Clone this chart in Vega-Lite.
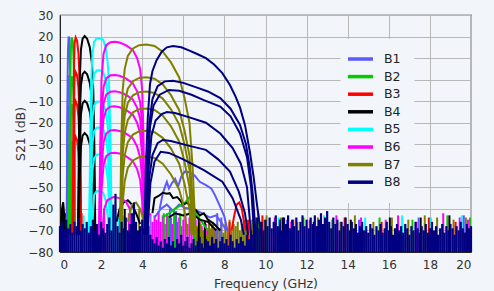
{
"$schema":"https://vega.github.io/schema/vega-lite/v6.json",
"width":411,"height":237,
"autosize":{"type":"none"},
"padding":{"left":60,"top":15,"right":23,"bottom":39},
"background":"#f2f5f9",
"config":{
"view":{"stroke":"#222","strokeWidth":1.2,"fill":"#f2f5f9"},
"font":"DejaVu Sans",
"axis":{"labelFont":"DejaVu Sans","titleFont":"DejaVu Sans","labelFontSize":12,"titleFontSize":12.5,"titleFontWeight":"normal","labelColor":"#333","titleColor":"#333","domainColor":"#222","gridColor":"#b8b8b8","gridWidth":1,"ticks":false},
"legend":{"orient":"none","legendX":280.5,"legendY":24,"title":null,"symbolType":"M-2.5,0H2.5","symbolSize":100,"symbolStrokeWidth":3.5,"labelFontSize":12.5,"labelOffset":16.5,"padding":13,"fillColor":"#f2f5f9","rowPadding":3.6,"labelColor":"#222","labelFont":"DejaVu Sans"}
},
"datasets":{
"curves":[
{"b":"B1","l":1,"f":0.32,"s":-72},{"b":"B1","l":1,"f":0.35,"s":-30},{"b":"B1","l":1,"f":0.37,"s":0},{"b":"B1","l":1,"f":0.39,"s":14},{"b":"B1","l":1,"f":0.42,"s":20},{"b":"B1","l":1,"f":0.46,"s":19},{"b":"B1","l":1,"f":0.48,"s":12},{"b":"B1","l":1,"f":0.5,"s":-5},{"b":"B1","l":1,"f":0.52,"s":-40},{"b":"B1","l":1,"f":0.54,"s":-72},
{"b":"B1","l":2,"f":0.32,"s":-72},{"b":"B1","l":2,"f":0.35,"s":-48},{"b":"B1","l":2,"f":0.37,"s":-18},{"b":"B1","l":2,"f":0.39,"s":-4},{"b":"B1","l":2,"f":0.42,"s":2},{"b":"B1","l":2,"f":0.46,"s":1},{"b":"B1","l":2,"f":0.48,"s":-6},{"b":"B1","l":2,"f":0.5,"s":-23},{"b":"B1","l":2,"f":0.52,"s":-58},{"b":"B1","l":2,"f":0.54,"s":-72},
{"b":"B1","l":3,"f":0.32,"s":-72},{"b":"B1","l":3,"f":0.35,"s":-62},{"b":"B1","l":3,"f":0.37,"s":-32},{"b":"B1","l":3,"f":0.39,"s":-18},{"b":"B1","l":3,"f":0.42,"s":-12},{"b":"B1","l":3,"f":0.46,"s":-13},{"b":"B1","l":3,"f":0.48,"s":-20},{"b":"B1","l":3,"f":0.5,"s":-37},{"b":"B1","l":3,"f":0.52,"s":-72},
{"b":"B1","l":4,"f":0.33,"s":-72},{"b":"B1","l":4,"f":0.37,"s":-50},{"b":"B1","l":4,"f":0.39,"s":-36},{"b":"B1","l":4,"f":0.42,"s":-30},{"b":"B1","l":4,"f":0.46,"s":-31},{"b":"B1","l":4,"f":0.48,"s":-38},{"b":"B1","l":4,"f":0.5,"s":-55},{"b":"B1","l":4,"f":0.52,"s":-72},
{"b":"B1","l":9,"f":4.85,"s":-60},{"b":"B1","l":9,"f":5.0,"s":-53},{"b":"B1","l":9,"f":5.1,"s":-50},{"b":"B1","l":9,"f":5.2,"s":-47.4},{"b":"B1","l":9,"f":5.3,"s":-50.5},{"b":"B1","l":9,"f":5.45,"s":-48},{"b":"B1","l":9,"f":5.6,"s":-46},{"b":"B1","l":9,"f":5.75,"s":-49.5},{"b":"B1","l":9,"f":5.9,"s":-45},{"b":"B1","l":9,"f":6.07,"s":-42.7},{"b":"B1","l":9,"f":6.3,"s":-43},{"b":"B1","l":9,"f":6.55,"s":-44.5},{"b":"B1","l":9,"f":6.8,"s":-47.4},{"b":"B1","l":9,"f":7.1,"s":-49},{"b":"B1","l":9,"f":7.37,"s":-50.6},{"b":"B1","l":9,"f":7.54,"s":-53.6},{"b":"B1","l":9,"f":7.75,"s":-58},{"b":"B1","l":9,"f":8.0,"s":-63.6},{"b":"B1","l":9,"f":8.15,"s":-70},
{"b":"B1","l":10,"f":4.6,"s":-64},{"b":"B1","l":10,"f":4.9,"s":-60},{"b":"B1","l":10,"f":5.2,"s":-58},{"b":"B1","l":10,"f":5.5,"s":-61},{"b":"B1","l":10,"f":5.8,"s":-58},{"b":"B1","l":10,"f":6.1,"s":-59.6},{"b":"B1","l":10,"f":6.5,"s":-60},{"b":"B1","l":10,"f":6.9,"s":-62},{"b":"B1","l":10,"f":7.3,"s":-64},{"b":"B1","l":10,"f":7.6,"s":-63},{"b":"B1","l":10,"f":7.9,"s":-67},{"b":"B1","l":10,"f":8.1,"s":-70},
{"b":"B2","l":1,"f":0.44,"s":-72},{"b":"B2","l":1,"f":0.47,"s":-30},{"b":"B2","l":1,"f":0.5,"s":0},{"b":"B2","l":1,"f":0.53,"s":14},{"b":"B2","l":1,"f":0.57,"s":19.5},{"b":"B2","l":1,"f":0.62,"s":18},{"b":"B2","l":1,"f":0.66,"s":10},{"b":"B2","l":1,"f":0.69,"s":-10},{"b":"B2","l":1,"f":0.72,"s":-45},{"b":"B2","l":1,"f":0.74,"s":-72},
{"b":"B2","l":2,"f":0.44,"s":-72},{"b":"B2","l":2,"f":0.47,"s":-48},{"b":"B2","l":2,"f":0.5,"s":-18},{"b":"B2","l":2,"f":0.53,"s":-4},{"b":"B2","l":2,"f":0.57,"s":1.5},{"b":"B2","l":2,"f":0.62,"s":0},{"b":"B2","l":2,"f":0.66,"s":-8},{"b":"B2","l":2,"f":0.69,"s":-28},{"b":"B2","l":2,"f":0.72,"s":-63},{"b":"B2","l":2,"f":0.74,"s":-72},
{"b":"B2","l":3,"f":0.45,"s":-72},{"b":"B2","l":3,"f":0.47,"s":-61},{"b":"B2","l":3,"f":0.5,"s":-31},{"b":"B2","l":3,"f":0.53,"s":-17},{"b":"B2","l":3,"f":0.57,"s":-11.5},{"b":"B2","l":3,"f":0.62,"s":-13},{"b":"B2","l":3,"f":0.66,"s":-21},{"b":"B2","l":3,"f":0.69,"s":-41},{"b":"B2","l":3,"f":0.72,"s":-72},
{"b":"B2","l":4,"f":0.47,"s":-72},{"b":"B2","l":4,"f":0.5,"s":-48},{"b":"B2","l":4,"f":0.53,"s":-34},{"b":"B2","l":4,"f":0.57,"s":-28.5},{"b":"B2","l":4,"f":0.62,"s":-30},{"b":"B2","l":4,"f":0.66,"s":-38},{"b":"B2","l":4,"f":0.69,"s":-58},{"b":"B2","l":4,"f":0.71,"s":-72},
{"b":"B2","l":9,"f":5.0,"s":-64},{"b":"B2","l":9,"f":5.3,"s":-62},{"b":"B2","l":9,"f":5.6,"s":-60},{"b":"B2","l":9,"f":5.9,"s":-58},{"b":"B2","l":9,"f":6.1,"s":-57},{"b":"B2","l":9,"f":6.3,"s":-54.5},{"b":"B2","l":9,"f":6.45,"s":-57},{"b":"B2","l":9,"f":6.6,"s":-62},{"b":"B2","l":9,"f":6.9,"s":-66},{"b":"B2","l":9,"f":7.2,"s":-70},
{"b":"B3","l":1,"f":0.62,"s":-72},{"b":"B3","l":1,"f":0.65,"s":-30},{"b":"B3","l":1,"f":0.68,"s":5},{"b":"B3","l":1,"f":0.71,"s":17},{"b":"B3","l":1,"f":0.76,"s":19.5},{"b":"B3","l":1,"f":0.83,"s":18},{"b":"B3","l":1,"f":0.9,"s":12},{"b":"B3","l":1,"f":0.95,"s":0},{"b":"B3","l":1,"f":0.99,"s":-25},{"b":"B3","l":1,"f":1.03,"s":-72},
{"b":"B3","l":2,"f":0.62,"s":-72},{"b":"B3","l":2,"f":0.65,"s":-46},{"b":"B3","l":2,"f":0.68,"s":-11},{"b":"B3","l":2,"f":0.71,"s":1},{"b":"B3","l":2,"f":0.76,"s":3.5},{"b":"B3","l":2,"f":0.83,"s":2},{"b":"B3","l":2,"f":0.9,"s":-4},{"b":"B3","l":2,"f":0.95,"s":-16},{"b":"B3","l":2,"f":0.99,"s":-41},{"b":"B3","l":2,"f":1.02,"s":-72},
{"b":"B3","l":3,"f":0.63,"s":-72},{"b":"B3","l":3,"f":0.65,"s":-59.5},{"b":"B3","l":3,"f":0.68,"s":-24.5},{"b":"B3","l":3,"f":0.71,"s":-12.5},{"b":"B3","l":3,"f":0.76,"s":-10},{"b":"B3","l":3,"f":0.83,"s":-11.5},{"b":"B3","l":3,"f":0.9,"s":-17.5},{"b":"B3","l":3,"f":0.95,"s":-29.5},{"b":"B3","l":3,"f":0.99,"s":-54.5},{"b":"B3","l":3,"f":1.01,"s":-72},
{"b":"B3","l":4,"f":0.65,"s":-72},{"b":"B3","l":4,"f":0.68,"s":-41},{"b":"B3","l":4,"f":0.71,"s":-29},{"b":"B3","l":4,"f":0.76,"s":-26.5},{"b":"B3","l":4,"f":0.83,"s":-28},{"b":"B3","l":4,"f":0.9,"s":-34},{"b":"B3","l":4,"f":0.95,"s":-46},{"b":"B3","l":4,"f":0.98,"s":-72},
{"b":"B3","l":9,"f":8.35,"s":-70},{"b":"B3","l":9,"f":8.48,"s":-63},{"b":"B3","l":9,"f":8.6,"s":-58},{"b":"B3","l":9,"f":8.72,"s":-57},{"b":"B3","l":9,"f":8.85,"s":-60},{"b":"B3","l":9,"f":8.95,"s":-66},{"b":"B3","l":9,"f":9.05,"s":-70},
{"b":"B4","l":1,"f":0.88,"s":-72},{"b":"B4","l":1,"f":0.92,"s":-30},{"b":"B4","l":1,"f":0.96,"s":0},{"b":"B4","l":1,"f":1.02,"s":14},{"b":"B4","l":1,"f":1.1,"s":19},{"b":"B4","l":1,"f":1.2,"s":20.2},{"b":"B4","l":1,"f":1.32,"s":19},{"b":"B4","l":1,"f":1.45,"s":15},{"b":"B4","l":1,"f":1.55,"s":8},{"b":"B4","l":1,"f":1.62,"s":-5},{"b":"B4","l":1,"f":1.67,"s":-30},{"b":"B4","l":1,"f":1.72,"s":-72},
{"b":"B4","l":2,"f":0.88,"s":-72},{"b":"B4","l":2,"f":0.92,"s":-46.5},{"b":"B4","l":2,"f":0.96,"s":-16.5},{"b":"B4","l":2,"f":1.02,"s":-2.5},{"b":"B4","l":2,"f":1.1,"s":2.5},{"b":"B4","l":2,"f":1.2,"s":3.7},{"b":"B4","l":2,"f":1.32,"s":2.5},{"b":"B4","l":2,"f":1.45,"s":-1.5},{"b":"B4","l":2,"f":1.55,"s":-8.5},{"b":"B4","l":2,"f":1.62,"s":-21.5},{"b":"B4","l":2,"f":1.67,"s":-46.5},{"b":"B4","l":2,"f":1.71,"s":-72},
{"b":"B4","l":3,"f":0.89,"s":-72},{"b":"B4","l":3,"f":0.92,"s":-60},{"b":"B4","l":3,"f":0.96,"s":-30},{"b":"B4","l":3,"f":1.02,"s":-16},{"b":"B4","l":3,"f":1.1,"s":-11},{"b":"B4","l":3,"f":1.2,"s":-9.8},{"b":"B4","l":3,"f":1.32,"s":-11},{"b":"B4","l":3,"f":1.45,"s":-15},{"b":"B4","l":3,"f":1.55,"s":-22},{"b":"B4","l":3,"f":1.62,"s":-35},{"b":"B4","l":3,"f":1.67,"s":-60},{"b":"B4","l":3,"f":1.7,"s":-72},
{"b":"B4","l":4,"f":0.92,"s":-72},{"b":"B4","l":4,"f":0.96,"s":-45},{"b":"B4","l":4,"f":1.02,"s":-31},{"b":"B4","l":4,"f":1.1,"s":-26},{"b":"B4","l":4,"f":1.2,"s":-24.8},{"b":"B4","l":4,"f":1.32,"s":-26},{"b":"B4","l":4,"f":1.45,"s":-30},{"b":"B4","l":4,"f":1.55,"s":-37},{"b":"B4","l":4,"f":1.62,"s":-50},{"b":"B4","l":4,"f":1.66,"s":-72},
{"b":"B4","l":9,"f":4.5,"s":-62},{"b":"B4","l":9,"f":4.6,"s":-55},{"b":"B4","l":9,"f":4.8,"s":-54},{"b":"B4","l":9,"f":5.0,"s":-52.5},{"b":"B4","l":9,"f":5.2,"s":-53},{"b":"B4","l":9,"f":5.34,"s":-52.7},{"b":"B4","l":9,"f":5.5,"s":-55},{"b":"B4","l":9,"f":5.7,"s":-54.5},{"b":"B4","l":9,"f":5.83,"s":-55.8},{"b":"B4","l":9,"f":6.0,"s":-58},{"b":"B4","l":9,"f":6.2,"s":-57},{"b":"B4","l":9,"f":6.4,"s":-60},{"b":"B4","l":9,"f":6.6,"s":-60.5},{"b":"B4","l":9,"f":6.8,"s":-63},{"b":"B4","l":9,"f":7.0,"s":-62},{"b":"B4","l":9,"f":7.2,"s":-65},{"b":"B4","l":9,"f":7.5,"s":-67},{"b":"B4","l":9,"f":7.8,"s":-70},
{"b":"B4","l":10,"f":5.3,"s":-64},{"b":"B4","l":10,"f":5.6,"s":-62},{"b":"B4","l":10,"f":6.0,"s":-63},{"b":"B4","l":10,"f":6.4,"s":-62},{"b":"B4","l":10,"f":6.8,"s":-65},{"b":"B4","l":10,"f":7.2,"s":-66},{"b":"B4","l":10,"f":7.6,"s":-70},
{"b":"B4","l":11,"f":2.75,"s":-66},{"b":"B4","l":11,"f":2.9,"s":-60},{"b":"B4","l":11,"f":3.1,"s":-57},{"b":"B4","l":11,"f":3.3,"s":-56},{"b":"B4","l":11,"f":3.5,"s":-58},{"b":"B4","l":11,"f":3.7,"s":-62},{"b":"B4","l":11,"f":3.9,"s":-67},
{"b":"B4","l":12,"f":0.05,"s":-70},{"b":"B4","l":12,"f":0.1,"s":-60},{"b":"B4","l":12,"f":0.15,"s":-57},{"b":"B4","l":12,"f":0.2,"s":-62},{"b":"B4","l":12,"f":0.25,"s":-70},
{"b":"B5","l":1,"f":1.42,"s":-72},{"b":"B5","l":1,"f":1.47,"s":-30},{"b":"B5","l":1,"f":1.52,"s":0},{"b":"B5","l":1,"f":1.58,"s":12},{"b":"B5","l":1,"f":1.66,"s":17.5},{"b":"B5","l":1,"f":1.78,"s":19.2},{"b":"B5","l":1,"f":1.95,"s":19.3},{"b":"B5","l":1,"f":2.1,"s":18.5},{"b":"B5","l":1,"f":2.22,"s":15},{"b":"B5","l":1,"f":2.32,"s":8},{"b":"B5","l":1,"f":2.4,"s":-5},{"b":"B5","l":1,"f":2.46,"s":-30},{"b":"B5","l":1,"f":2.52,"s":-72},
{"b":"B5","l":2,"f":1.42,"s":-72},{"b":"B5","l":2,"f":1.47,"s":-45},{"b":"B5","l":2,"f":1.52,"s":-15},{"b":"B5","l":2,"f":1.58,"s":-3},{"b":"B5","l":2,"f":1.66,"s":2.5},{"b":"B5","l":2,"f":1.78,"s":4.2},{"b":"B5","l":2,"f":1.95,"s":4.3},{"b":"B5","l":2,"f":2.1,"s":3.5},{"b":"B5","l":2,"f":2.22,"s":0},{"b":"B5","l":2,"f":2.32,"s":-7},{"b":"B5","l":2,"f":2.4,"s":-20},{"b":"B5","l":2,"f":2.46,"s":-45},{"b":"B5","l":2,"f":2.51,"s":-72},
{"b":"B5","l":3,"f":1.43,"s":-72},{"b":"B5","l":3,"f":1.47,"s":-59.5},{"b":"B5","l":3,"f":1.52,"s":-29.5},{"b":"B5","l":3,"f":1.58,"s":-17.5},{"b":"B5","l":3,"f":1.66,"s":-12},{"b":"B5","l":3,"f":1.78,"s":-10.3},{"b":"B5","l":3,"f":1.95,"s":-10.2},{"b":"B5","l":3,"f":2.1,"s":-11},{"b":"B5","l":3,"f":2.22,"s":-14.5},{"b":"B5","l":3,"f":2.32,"s":-21.5},{"b":"B5","l":3,"f":2.4,"s":-34.5},{"b":"B5","l":3,"f":2.46,"s":-59.5},{"b":"B5","l":3,"f":2.49,"s":-72},
{"b":"B5","l":4,"f":1.46,"s":-72},{"b":"B5","l":4,"f":1.52,"s":-41.5},{"b":"B5","l":4,"f":1.58,"s":-29.5},{"b":"B5","l":4,"f":1.66,"s":-24},{"b":"B5","l":4,"f":1.78,"s":-22.3},{"b":"B5","l":4,"f":1.95,"s":-22.2},{"b":"B5","l":4,"f":2.1,"s":-23},{"b":"B5","l":4,"f":2.22,"s":-26.5},{"b":"B5","l":4,"f":2.32,"s":-33.5},{"b":"B5","l":4,"f":2.4,"s":-46.5},{"b":"B5","l":4,"f":2.45,"s":-72},
{"b":"B5","l":5,"f":1.48,"s":-72},{"b":"B5","l":5,"f":1.52,"s":-54},{"b":"B5","l":5,"f":1.58,"s":-42},{"b":"B5","l":5,"f":1.66,"s":-36.5},{"b":"B5","l":5,"f":1.78,"s":-34.8},{"b":"B5","l":5,"f":1.95,"s":-34.7},{"b":"B5","l":5,"f":2.1,"s":-35.5},{"b":"B5","l":5,"f":2.22,"s":-39},{"b":"B5","l":5,"f":2.32,"s":-46},{"b":"B5","l":5,"f":2.4,"s":-59},{"b":"B5","l":5,"f":2.43,"s":-72},
{"b":"B5","l":6,"f":1.55,"s":-72},{"b":"B5","l":6,"f":1.66,"s":-53.5},{"b":"B5","l":6,"f":1.78,"s":-51.8},{"b":"B5","l":6,"f":1.95,"s":-51.7},{"b":"B5","l":6,"f":2.1,"s":-52.5},{"b":"B5","l":6,"f":2.22,"s":-56},{"b":"B5","l":6,"f":2.32,"s":-63},{"b":"B5","l":6,"f":2.38,"s":-72},
{"b":"B6","l":1,"f":1.9,"s":-72},{"b":"B6","l":1,"f":1.96,"s":-30},{"b":"B6","l":1,"f":2.02,"s":0},{"b":"B6","l":1,"f":2.12,"s":12},{"b":"B6","l":1,"f":2.25,"s":16},{"b":"B6","l":1,"f":2.45,"s":17.4},{"b":"B6","l":1,"f":2.66,"s":17.6},{"b":"B6","l":1,"f":2.9,"s":17.2},{"b":"B6","l":1,"f":3.2,"s":16},{"b":"B6","l":1,"f":3.54,"s":13.8},{"b":"B6","l":1,"f":3.75,"s":10},{"b":"B6","l":1,"f":3.9,"s":5},{"b":"B6","l":1,"f":4.0,"s":-5},{"b":"B6","l":1,"f":4.06,"s":-25},{"b":"B6","l":1,"f":4.13,"s":-72},
{"b":"B6","l":2,"f":1.9,"s":-72},{"b":"B6","l":2,"f":1.96,"s":-45.4},{"b":"B6","l":2,"f":2.02,"s":-15.4},{"b":"B6","l":2,"f":2.12,"s":-3.4},{"b":"B6","l":2,"f":2.25,"s":0.6},{"b":"B6","l":2,"f":2.45,"s":2},{"b":"B6","l":2,"f":2.66,"s":2.2},{"b":"B6","l":2,"f":2.9,"s":1.8},{"b":"B6","l":2,"f":3.2,"s":0.6},{"b":"B6","l":2,"f":3.54,"s":-1.6},{"b":"B6","l":2,"f":3.75,"s":-5.4},{"b":"B6","l":2,"f":3.9,"s":-10.4},{"b":"B6","l":2,"f":4.0,"s":-20.4},{"b":"B6","l":2,"f":4.06,"s":-40.4},{"b":"B6","l":2,"f":4.11,"s":-72},
{"b":"B6","l":3,"f":1.91,"s":-72},{"b":"B6","l":3,"f":1.96,"s":-53},{"b":"B6","l":3,"f":2.02,"s":-23},{"b":"B6","l":3,"f":2.12,"s":-11},{"b":"B6","l":3,"f":2.25,"s":-7},{"b":"B6","l":3,"f":2.45,"s":-5.6},{"b":"B6","l":3,"f":2.66,"s":-5.4},{"b":"B6","l":3,"f":2.9,"s":-5.8},{"b":"B6","l":3,"f":3.2,"s":-7},{"b":"B6","l":3,"f":3.54,"s":-9.2},{"b":"B6","l":3,"f":3.75,"s":-13},{"b":"B6","l":3,"f":3.9,"s":-18},{"b":"B6","l":3,"f":4.0,"s":-28},{"b":"B6","l":3,"f":4.06,"s":-48},{"b":"B6","l":3,"f":4.1,"s":-72},
{"b":"B6","l":4,"f":1.92,"s":-72},{"b":"B6","l":4,"f":1.96,"s":-60},{"b":"B6","l":4,"f":2.02,"s":-30},{"b":"B6","l":4,"f":2.12,"s":-18},{"b":"B6","l":4,"f":2.25,"s":-14},{"b":"B6","l":4,"f":2.45,"s":-12.6},{"b":"B6","l":4,"f":2.66,"s":-12.4},{"b":"B6","l":4,"f":2.9,"s":-12.8},{"b":"B6","l":4,"f":3.2,"s":-14},{"b":"B6","l":4,"f":3.54,"s":-16.2},{"b":"B6","l":4,"f":3.75,"s":-20},{"b":"B6","l":4,"f":3.9,"s":-25},{"b":"B6","l":4,"f":4.0,"s":-35},{"b":"B6","l":4,"f":4.06,"s":-55},{"b":"B6","l":4,"f":4.09,"s":-72},
{"b":"B6","l":5,"f":1.94,"s":-72},{"b":"B6","l":5,"f":2.02,"s":-41},{"b":"B6","l":5,"f":2.12,"s":-29},{"b":"B6","l":5,"f":2.25,"s":-25},{"b":"B6","l":5,"f":2.45,"s":-23.6},{"b":"B6","l":5,"f":2.66,"s":-23.4},{"b":"B6","l":5,"f":2.9,"s":-23.8},{"b":"B6","l":5,"f":3.2,"s":-25},{"b":"B6","l":5,"f":3.54,"s":-27.2},{"b":"B6","l":5,"f":3.75,"s":-31},{"b":"B6","l":5,"f":3.9,"s":-36},{"b":"B6","l":5,"f":4.0,"s":-46},{"b":"B6","l":5,"f":4.06,"s":-66},{"b":"B6","l":5,"f":4.08,"s":-72},
{"b":"B6","l":6,"f":1.96,"s":-72},{"b":"B6","l":6,"f":2.02,"s":-51.5},{"b":"B6","l":6,"f":2.12,"s":-39.5},{"b":"B6","l":6,"f":2.25,"s":-35.5},{"b":"B6","l":6,"f":2.45,"s":-34.1},{"b":"B6","l":6,"f":2.66,"s":-33.9},{"b":"B6","l":6,"f":2.9,"s":-34.3},{"b":"B6","l":6,"f":3.2,"s":-35.5},{"b":"B6","l":6,"f":3.54,"s":-37.7},{"b":"B6","l":6,"f":3.75,"s":-41.5},{"b":"B6","l":6,"f":3.9,"s":-46.5},{"b":"B6","l":6,"f":4.0,"s":-56.5},{"b":"B6","l":6,"f":4.05,"s":-72},
{"b":"B6","l":7,"f":2.05,"s":-72},{"b":"B6","l":7,"f":2.15,"s":-60},{"b":"B6","l":7,"f":2.3,"s":-56},{"b":"B6","l":7,"f":2.6,"s":-54.5},{"b":"B6","l":7,"f":2.9,"s":-55},{"b":"B6","l":7,"f":3.2,"s":-56.5},{"b":"B6","l":7,"f":3.4,"s":-60},{"b":"B6","l":7,"f":3.5,"s":-72},
{"b":"B7","l":1,"f":2.92,"s":-72},{"b":"B7","l":1,"f":2.98,"s":-30},{"b":"B7","l":1,"f":3.05,"s":-5},{"b":"B7","l":1,"f":3.15,"s":5},{"b":"B7","l":1,"f":3.3,"s":11},{"b":"B7","l":1,"f":3.55,"s":14.5},{"b":"B7","l":1,"f":3.85,"s":16},{"b":"B7","l":1,"f":4.2,"s":16.3},{"b":"B7","l":1,"f":4.6,"s":15.6},{"b":"B7","l":1,"f":5.0,"s":13},{"b":"B7","l":1,"f":5.4,"s":8},{"b":"B7","l":1,"f":5.8,"s":1},{"b":"B7","l":1,"f":6.05,"s":-8},{"b":"B7","l":1,"f":6.3,"s":-20},{"b":"B7","l":1,"f":6.45,"s":-40},{"b":"B7","l":1,"f":6.6,"s":-72},
{"b":"B7","l":2,"f":2.92,"s":-72},{"b":"B7","l":2,"f":2.98,"s":-45.2},{"b":"B7","l":2,"f":3.05,"s":-20.2},{"b":"B7","l":2,"f":3.15,"s":-10.2},{"b":"B7","l":2,"f":3.3,"s":-4.2},{"b":"B7","l":2,"f":3.55,"s":-0.7},{"b":"B7","l":2,"f":3.85,"s":0.8},{"b":"B7","l":2,"f":4.2,"s":1.1},{"b":"B7","l":2,"f":4.6,"s":0.4},{"b":"B7","l":2,"f":5.0,"s":-2.2},{"b":"B7","l":2,"f":5.4,"s":-7.2},{"b":"B7","l":2,"f":5.8,"s":-14.2},{"b":"B7","l":2,"f":6.05,"s":-23.2},{"b":"B7","l":2,"f":6.3,"s":-35.2},{"b":"B7","l":2,"f":6.45,"s":-55.2},{"b":"B7","l":2,"f":6.55,"s":-72},
{"b":"B7","l":3,"f":2.93,"s":-72},{"b":"B7","l":3,"f":2.98,"s":-51.8},{"b":"B7","l":3,"f":3.05,"s":-26.8},{"b":"B7","l":3,"f":3.15,"s":-16.8},{"b":"B7","l":3,"f":3.3,"s":-10.8},{"b":"B7","l":3,"f":3.55,"s":-7.3},{"b":"B7","l":3,"f":3.85,"s":-5.8},{"b":"B7","l":3,"f":4.2,"s":-5.5},{"b":"B7","l":3,"f":4.6,"s":-6.2},{"b":"B7","l":3,"f":5.0,"s":-8.8},{"b":"B7","l":3,"f":5.4,"s":-13.8},{"b":"B7","l":3,"f":5.8,"s":-20.8},{"b":"B7","l":3,"f":6.05,"s":-29.8},{"b":"B7","l":3,"f":6.3,"s":-41.8},{"b":"B7","l":3,"f":6.45,"s":-61.8},{"b":"B7","l":3,"f":6.52,"s":-72},
{"b":"B7","l":4,"f":2.94,"s":-72},{"b":"B7","l":4,"f":2.98,"s":-59.7},{"b":"B7","l":4,"f":3.05,"s":-34.7},{"b":"B7","l":4,"f":3.15,"s":-24.7},{"b":"B7","l":4,"f":3.3,"s":-18.7},{"b":"B7","l":4,"f":3.55,"s":-15.2},{"b":"B7","l":4,"f":3.85,"s":-13.7},{"b":"B7","l":4,"f":4.2,"s":-13.4},{"b":"B7","l":4,"f":4.6,"s":-14.1},{"b":"B7","l":4,"f":5.0,"s":-16.7},{"b":"B7","l":4,"f":5.4,"s":-21.7},{"b":"B7","l":4,"f":5.8,"s":-28.7},{"b":"B7","l":4,"f":6.05,"s":-37.7},{"b":"B7","l":4,"f":6.3,"s":-49.7},{"b":"B7","l":4,"f":6.45,"s":-72},
{"b":"B7","l":5,"f":2.96,"s":-72},{"b":"B7","l":5,"f":3.05,"s":-45},{"b":"B7","l":5,"f":3.15,"s":-35},{"b":"B7","l":5,"f":3.3,"s":-29},{"b":"B7","l":5,"f":3.55,"s":-25.5},{"b":"B7","l":5,"f":3.85,"s":-24},{"b":"B7","l":5,"f":4.2,"s":-23.7},{"b":"B7","l":5,"f":4.6,"s":-24.4},{"b":"B7","l":5,"f":5.0,"s":-27},{"b":"B7","l":5,"f":5.4,"s":-32},{"b":"B7","l":5,"f":5.8,"s":-39},{"b":"B7","l":5,"f":6.05,"s":-48},{"b":"B7","l":5,"f":6.3,"s":-60},{"b":"B7","l":5,"f":6.4,"s":-72},
{"b":"B7","l":6,"f":2.98,"s":-72},{"b":"B7","l":6,"f":3.05,"s":-57},{"b":"B7","l":6,"f":3.15,"s":-47},{"b":"B7","l":6,"f":3.3,"s":-41},{"b":"B7","l":6,"f":3.55,"s":-37.5},{"b":"B7","l":6,"f":3.85,"s":-36},{"b":"B7","l":6,"f":4.2,"s":-35.7},{"b":"B7","l":6,"f":4.6,"s":-36.4},{"b":"B7","l":6,"f":5.0,"s":-39},{"b":"B7","l":6,"f":5.4,"s":-44},{"b":"B7","l":6,"f":5.8,"s":-51},{"b":"B7","l":6,"f":6.05,"s":-60},{"b":"B7","l":6,"f":6.2,"s":-72},
{"b":"B7","l":9,"f":3.3,"s":-66},{"b":"B7","l":9,"f":3.5,"s":-58},{"b":"B7","l":9,"f":3.7,"s":-57},{"b":"B7","l":9,"f":3.9,"s":-60},{"b":"B7","l":9,"f":4.1,"s":-66},
{"b":"B8","l":1,"f":4.1,"s":-72},{"b":"B8","l":1,"f":4.18,"s":-40},{"b":"B8","l":1,"f":4.27,"s":-18},{"b":"B8","l":1,"f":4.38,"s":-2},{"b":"B8","l":1,"f":4.5,"s":4},{"b":"B8","l":1,"f":4.7,"s":9},{"b":"B8","l":1,"f":4.95,"s":13},{"b":"B8","l":1,"f":5.2,"s":15},{"b":"B8","l":1,"f":5.5,"s":15.6},{"b":"B8","l":1,"f":5.9,"s":15},{"b":"B8","l":1,"f":6.3,"s":13.5},{"b":"B8","l":1,"f":6.7,"s":11.8},{"b":"B8","l":1,"f":7.1,"s":10},{"b":"B8","l":1,"f":7.5,"s":7},{"b":"B8","l":1,"f":7.9,"s":3},{"b":"B8","l":1,"f":8.27,"s":-2.5},{"b":"B8","l":1,"f":8.55,"s":-8},{"b":"B8","l":1,"f":8.76,"s":-13},{"b":"B8","l":1,"f":9.0,"s":-21},{"b":"B8","l":1,"f":9.24,"s":-33.6},{"b":"B8","l":1,"f":9.42,"s":-45},{"b":"B8","l":1,"f":9.57,"s":-56.8},{"b":"B8","l":1,"f":9.7,"s":-66},{"b":"B8","l":1,"f":9.8,"s":-72},
{"b":"B8","l":2,"f":4.15,"s":-72},{"b":"B8","l":2,"f":4.25,"s":-40},{"b":"B8","l":2,"f":4.35,"s":-20},{"b":"B8","l":2,"f":4.5,"s":-9},{"b":"B8","l":2,"f":4.75,"s":-3},{"b":"B8","l":2,"f":5.1,"s":-0.8},{"b":"B8","l":2,"f":5.5,"s":-0.5},{"b":"B8","l":2,"f":6.0,"s":-1.5},{"b":"B8","l":2,"f":6.6,"s":-3.5},{"b":"B8","l":2,"f":7.2,"s":-5.5},{"b":"B8","l":2,"f":7.8,"s":-8.6},{"b":"B8","l":2,"f":8.3,"s":-13.5},{"b":"B8","l":2,"f":8.76,"s":-21},{"b":"B8","l":2,"f":9.05,"s":-30},{"b":"B8","l":2,"f":9.24,"s":-41},{"b":"B8","l":2,"f":9.4,"s":-55},{"b":"B8","l":2,"f":9.52,"s":-72},
{"b":"B8","l":3,"f":4.17,"s":-72},{"b":"B8","l":3,"f":4.27,"s":-40},{"b":"B8","l":3,"f":4.38,"s":-22},{"b":"B8","l":3,"f":4.55,"s":-12},{"b":"B8","l":3,"f":4.85,"s":-7},{"b":"B8","l":3,"f":5.3,"s":-4.8},{"b":"B8","l":3,"f":5.8,"s":-5.2},{"b":"B8","l":3,"f":6.4,"s":-7},{"b":"B8","l":3,"f":7.0,"s":-9.5},{"b":"B8","l":3,"f":7.8,"s":-12.5},{"b":"B8","l":3,"f":8.3,"s":-17},{"b":"B8","l":3,"f":8.76,"s":-25},{"b":"B8","l":3,"f":9.1,"s":-36},{"b":"B8","l":3,"f":9.3,"s":-50},{"b":"B8","l":3,"f":9.45,"s":-72},
{"b":"B8","l":4,"f":4.2,"s":-72},{"b":"B8","l":4,"f":4.32,"s":-40},{"b":"B8","l":4,"f":4.45,"s":-26},{"b":"B8","l":4,"f":4.65,"s":-19},{"b":"B8","l":4,"f":4.95,"s":-16},{"b":"B8","l":4,"f":5.2,"s":-15},{"b":"B8","l":4,"f":5.6,"s":-15.5},{"b":"B8","l":4,"f":6.3,"s":-17.5},{"b":"B8","l":4,"f":7.1,"s":-20},{"b":"B8","l":4,"f":7.8,"s":-25},{"b":"B8","l":4,"f":8.4,"s":-31.8},{"b":"B8","l":4,"f":8.8,"s":-39},{"b":"B8","l":4,"f":9.1,"s":-50},{"b":"B8","l":4,"f":9.3,"s":-72},
{"b":"B8","l":5,"f":4.22,"s":-72},{"b":"B8","l":5,"f":4.35,"s":-45},{"b":"B8","l":5,"f":4.5,"s":-35},{"b":"B8","l":5,"f":4.75,"s":-29.5},{"b":"B8","l":5,"f":5.0,"s":-28},{"b":"B8","l":5,"f":5.4,"s":-28.5},{"b":"B8","l":5,"f":6.2,"s":-30.5},{"b":"B8","l":5,"f":7.1,"s":-32.6},{"b":"B8","l":5,"f":7.7,"s":-37},{"b":"B8","l":5,"f":8.27,"s":-42.7},{"b":"B8","l":5,"f":8.7,"s":-52},{"b":"B8","l":5,"f":9.0,"s":-62},{"b":"B8","l":5,"f":9.15,"s":-72},
{"b":"B8","l":6,"f":4.25,"s":-72},{"b":"B8","l":6,"f":4.4,"s":-48},{"b":"B8","l":6,"f":4.6,"s":-38},{"b":"B8","l":6,"f":4.9,"s":-33.5},{"b":"B8","l":6,"f":5.3,"s":-34},{"b":"B8","l":6,"f":6.0,"s":-37},{"b":"B8","l":6,"f":7.0,"s":-42},{"b":"B8","l":6,"f":7.9,"s":-47.4},{"b":"B8","l":6,"f":8.4,"s":-55},{"b":"B8","l":6,"f":8.8,"s":-65},{"b":"B8","l":6,"f":8.95,"s":-72}
],
"noise":[
{"b":"B6","f":4.2,"s":-61},{"b":"B6","f":4.3,"s":-64},{"b":"B6","f":4.4,"s":-62},{"b":"B6","f":4.5,"s":-66},{"b":"B6","f":4.6,"s":-63},{"b":"B6","f":4.7,"s":-65},{"b":"B6","f":4.8,"s":-61},{"b":"B6","f":4.9,"s":-66},{"b":"B6","f":5.0,"s":-63},{"b":"B6","f":5.1,"s":-67},{"b":"B6","f":5.2,"s":-62},{"b":"B6","f":5.3,"s":-65},{"b":"B6","f":5.4,"s":-64},{"b":"B6","f":5.5,"s":-67},{"b":"B6","f":5.6,"s":-63},{"b":"B6","f":5.7,"s":-66},{"b":"B6","f":5.8,"s":-64},{"b":"B6","f":5.9,"s":-68},{"b":"B6","f":6.0,"s":-65},{"b":"B6","f":6.1,"s":-63},{"b":"B6","f":6.2,"s":-67},{"b":"B6","f":6.3,"s":-64},{"b":"B6","f":6.4,"s":-66},{"b":"B6","f":6.5,"s":-68},{"b":"B6","f":6.6,"s":-65},{"b":"B6","f":6.7,"s":-69},{"b":"B6","f":6.8,"s":-66},{"b":"B6","f":6.9,"s":-68},{"b":"B6","f":7.0,"s":-70},{"b":"B6","f":7.1,"s":-67},{"b":"B6","f":7.2,"s":-69},{"b":"B6","f":7.3,"s":-71},{"b":"B6","f":7.4,"s":-68},{"b":"B6","f":7.5,"s":-70},{"b":"B6","f":7.6,"s":-72},
{"b":"B6","f":2.15,"s":-60},{"b":"B6","f":3.35,"s":-62},{"b":"B6","f":10.45,"s":-64},{"b":"B6","f":11.25,"s":-66},{"b":"B6","f":12.15,"s":-65},{"b":"B6","f":13.45,"s":-63},{"b":"B6","f":14.65,"s":-64},{"b":"B6","f":15.85,"s":-65},{"b":"B6","f":16.45,"s":-63},{"b":"B6","f":17.35,"s":-66},{"b":"B6","f":18.65,"s":-62},{"b":"B6","f":19.45,"s":-64},{"b":"B6","f":19.85,"s":-65},
{"b":"B7","f":6.65,"s":-68},{"b":"B7","f":6.75,"s":-71},{"b":"B7","f":6.85,"s":-67},{"b":"B7","f":6.95,"s":-70},{"b":"B7","f":7.05,"s":-68},{"b":"B7","f":7.15,"s":-72},{"b":"B7","f":7.25,"s":-67},{"b":"B7","f":7.35,"s":-69},{"b":"B7","f":7.45,"s":-66},{"b":"B7","f":7.55,"s":-70},{"b":"B7","f":7.65,"s":-67},{"b":"B7","f":7.75,"s":-69},{"b":"B7","f":7.85,"s":-66},{"b":"B7","f":7.95,"s":-71},{"b":"B7","f":8.05,"s":-67},{"b":"B7","f":8.15,"s":-69},{"b":"B7","f":8.25,"s":-65},{"b":"B7","f":8.35,"s":-70},{"b":"B7","f":8.45,"s":-67},{"b":"B7","f":8.55,"s":-68},{"b":"B7","f":8.65,"s":-66},{"b":"B7","f":8.75,"s":-70},{"b":"B7","f":8.85,"s":-67},{"b":"B7","f":8.95,"s":-65},{"b":"B7","f":9.05,"s":-69},{"b":"B7","f":9.15,"s":-66},{"b":"B7","f":9.25,"s":-68},{"b":"B7","f":9.35,"s":-65},{"b":"B7","f":9.45,"s":-67},{"b":"B7","f":9.55,"s":-64},{"b":"B7","f":9.65,"s":-68},{"b":"B7","f":9.75,"s":-66},{"b":"B7","f":9.85,"s":-69},{"b":"B7","f":9.95,"s":-65},
{"b":"B7","f":2.95,"s":-62},{"b":"B7","f":3.85,"s":-60},{"b":"B7","f":10.05,"s":-63},{"b":"B7","f":10.75,"s":-64},{"b":"B7","f":11.55,"s":-66},{"b":"B7","f":12.55,"s":-64},{"b":"B7","f":13.65,"s":-66},{"b":"B7","f":14.35,"s":-63},{"b":"B7","f":15.25,"s":-66},{"b":"B7","f":16.15,"s":-64},{"b":"B7","f":16.95,"s":-65},{"b":"B7","f":17.75,"s":-63},{"b":"B7","f":18.35,"s":-64},{"b":"B7","f":19.15,"s":-65},{"b":"B7","f":19.75,"s":-64},
{"b":"B5","f":0.55,"s":-65},{"b":"B5","f":1.15,"s":-63},{"b":"B5","f":2.55,"s":-62},{"b":"B5","f":2.65,"s":-60},{"b":"B5","f":2.85,"s":-64},{"b":"B5","f":4.15,"s":-60},{"b":"B5","f":4.35,"s":-63},{"b":"B5","f":10.65,"s":-64},{"b":"B5","f":12.85,"s":-63},{"b":"B5","f":14.85,"s":-64},{"b":"B5","f":16.65,"s":-63},{"b":"B5","f":18.05,"s":-64},{"b":"B5","f":19.55,"s":-63},
{"b":"B2","f":0.35,"s":-64},{"b":"B2","f":1.45,"s":-62},{"b":"B2","f":3.05,"s":-63},{"b":"B2","f":5.05,"s":-62},{"b":"B2","f":5.25,"s":-63},{"b":"B2","f":5.55,"s":-61},{"b":"B2","f":5.85,"s":-62},{"b":"B2","f":6.55,"s":-64},{"b":"B2","f":9.65,"s":-62},{"b":"B2","f":11.85,"s":-64},{"b":"B2","f":13.25,"s":-65},{"b":"B2","f":15.55,"s":-64},{"b":"B2","f":17.15,"s":-65},{"b":"B2","f":18.85,"s":-63},{"b":"B2","f":19.95,"s":-64},
{"b":"B4","f":0.15,"s":-57},{"b":"B4","f":0.25,"s":-62},{"b":"B4","f":3.15,"s":-60},{"b":"B4","f":6.75,"s":-64},{"b":"B4","f":7.05,"s":-66},{"b":"B4","f":9.45,"s":-64},{"b":"B4","f":10.85,"s":-64},{"b":"B4","f":12.35,"s":-66},{"b":"B4","f":14.15,"s":-65},{"b":"B4","f":16.05,"s":-64},{"b":"B4","f":17.55,"s":-64},{"b":"B4","f":18.95,"s":-63},
{"b":"B3","f":1.05,"s":-62},{"b":"B3","f":8.25,"s":-66},{"b":"B3","f":9.15,"s":-65},{"b":"B3","f":9.85,"s":-63},{"b":"B3","f":11.35,"s":-65},{"b":"B3","f":13.85,"s":-64},{"b":"B3","f":15.65,"s":-66},{"b":"B3","f":17.95,"s":-64},{"b":"B3","f":19.25,"s":-66},
{"b":"B1","f":0.25,"s":-64},{"b":"B1","f":5.35,"s":-60},{"b":"B1","f":5.65,"s":-61},{"b":"B1","f":7.65,"s":-62},{"b":"B1","f":7.85,"s":-64},{"b":"B1","f":11.05,"s":-65},{"b":"B1","f":14.55,"s":-65},{"b":"B1","f":17.45,"s":-64},{"b":"B1","f":19.65,"s":-63},
{"b":"B8","f":0.0,"s":-68},{"b":"B8","f":0.1,"s":-66},{"b":"B8","f":0.2,"s":-70},{"b":"B8","f":0.3,"s":-65},{"b":"B8","f":0.4,"s":-69},{"b":"B8","f":0.5,"s":-67},{"b":"B8","f":0.6,"s":-71},{"b":"B8","f":0.7,"s":-66},{"b":"B8","f":0.8,"s":-68},{"b":"B8","f":0.9,"s":-64},
{"b":"B8","f":1.0,"s":-70},{"b":"B8","f":1.1,"s":-67},{"b":"B8","f":1.2,"s":-69},{"b":"B8","f":1.3,"s":-66},{"b":"B8","f":1.4,"s":-71},{"b":"B8","f":1.5,"s":-68},{"b":"B8","f":1.6,"s":-65},{"b":"B8","f":1.7,"s":-70},{"b":"B8","f":1.8,"s":-67},{"b":"B8","f":1.9,"s":-72},
{"b":"B8","f":2.0,"s":-66},{"b":"B8","f":2.1,"s":-69},{"b":"B8","f":2.2,"s":-71},{"b":"B8","f":2.3,"s":-67},{"b":"B8","f":2.4,"s":-64},{"b":"B8","f":2.5,"s":-70},{"b":"B8","f":2.6,"s":-58},{"b":"B8","f":2.7,"s":-53},{"b":"B8","f":2.8,"s":-68},{"b":"B8","f":2.9,"s":-71},
{"b":"B8","f":3.0,"s":-66},{"b":"B8","f":3.1,"s":-69},{"b":"B8","f":3.2,"s":-64},{"b":"B8","f":3.3,"s":-70},{"b":"B8","f":3.4,"s":-67},{"b":"B8","f":3.5,"s":-62},{"b":"B8","f":3.6,"s":-57},{"b":"B8","f":3.7,"s":-66},{"b":"B8","f":3.8,"s":-70},{"b":"B8","f":3.9,"s":-68},
{"b":"B8","f":4.0,"s":-65},{"b":"B8","f":4.1,"s":-69},{"b":"B8","f":4.2,"s":-71},{"b":"B8","f":4.3,"s":-68},{"b":"B8","f":4.4,"s":-72},{"b":"B8","f":4.5,"s":-74},{"b":"B8","f":4.6,"s":-76},{"b":"B8","f":4.7,"s":-73},{"b":"B8","f":4.8,"s":-77},{"b":"B8","f":4.9,"s":-75},
{"b":"B8","f":5.0,"s":-78},{"b":"B8","f":5.1,"s":-74},{"b":"B8","f":5.2,"s":-76},{"b":"B8","f":5.3,"s":-73},{"b":"B8","f":5.4,"s":-77},{"b":"B8","f":5.5,"s":-75},{"b":"B8","f":5.6,"s":-78},{"b":"B8","f":5.7,"s":-74},{"b":"B8","f":5.8,"s":-76},{"b":"B8","f":5.9,"s":-72},
{"b":"B8","f":6.0,"s":-77},{"b":"B8","f":6.1,"s":-75},{"b":"B8","f":6.2,"s":-73},{"b":"B8","f":6.3,"s":-78},{"b":"B8","f":6.4,"s":-76},{"b":"B8","f":6.5,"s":-74},{"b":"B8","f":6.6,"s":-77},{"b":"B8","f":6.7,"s":-75},{"b":"B8","f":6.8,"s":-73},{"b":"B8","f":6.9,"s":-76},
{"b":"B8","f":7.0,"s":-78},{"b":"B8","f":7.1,"s":-74},{"b":"B8","f":7.2,"s":-75},{"b":"B8","f":7.3,"s":-77},{"b":"B8","f":7.4,"s":-73},{"b":"B8","f":7.5,"s":-76},{"b":"B8","f":7.6,"s":-74},{"b":"B8","f":7.7,"s":-78},{"b":"B8","f":7.8,"s":-75},{"b":"B8","f":7.9,"s":-73},
{"b":"B8","f":8.0,"s":-76},{"b":"B8","f":8.1,"s":-74},{"b":"B8","f":8.2,"s":-77},{"b":"B8","f":8.3,"s":-72},{"b":"B8","f":8.4,"s":-75},{"b":"B8","f":8.5,"s":-78},{"b":"B8","f":8.6,"s":-74},{"b":"B8","f":8.7,"s":-76},{"b":"B8","f":8.8,"s":-73},{"b":"B8","f":8.9,"s":-75},
{"b":"B8","f":9.0,"s":-77},{"b":"B8","f":9.1,"s":-72},{"b":"B8","f":9.2,"s":-74},{"b":"B8","f":9.3,"s":-70},{"b":"B8","f":9.4,"s":-72},{"b":"B8","f":9.5,"s":-68},{"b":"B8","f":9.6,"s":-64},{"b":"B8","f":9.7,"s":-69},{"b":"B8","f":9.8,"s":-66},{"b":"B8","f":9.9,"s":-70},
{"b":"B8","f":10.0,"s":-65},{"b":"B8","f":10.1,"s":-68},{"b":"B8","f":10.2,"s":-64},{"b":"B8","f":10.3,"s":-69},{"b":"B8","f":10.4,"s":-66},{"b":"B8","f":10.5,"s":-63},{"b":"B8","f":10.6,"s":-68},{"b":"B8","f":10.7,"s":-65},{"b":"B8","f":10.8,"s":-70},{"b":"B8","f":10.9,"s":-64},
{"b":"B8","f":11.0,"s":-67},{"b":"B8","f":11.1,"s":-63},{"b":"B8","f":11.2,"s":-69},{"b":"B8","f":11.3,"s":-65},{"b":"B8","f":11.4,"s":-68},{"b":"B8","f":11.5,"s":-64},{"b":"B8","f":11.6,"s":-70},{"b":"B8","f":11.7,"s":-66},{"b":"B8","f":11.8,"s":-63},{"b":"B8","f":11.9,"s":-68},
{"b":"B8","f":12.0,"s":-65},{"b":"B8","f":12.1,"s":-69},{"b":"B8","f":12.2,"s":-64},{"b":"B8","f":12.3,"s":-67},{"b":"B8","f":12.4,"s":-63},{"b":"B8","f":12.5,"s":-68},{"b":"B8","f":12.6,"s":-65},{"b":"B8","f":12.7,"s":-62},{"b":"B8","f":12.8,"s":-67},{"b":"B8","f":12.9,"s":-64},
{"b":"B8","f":13.0,"s":-61},{"b":"B8","f":13.1,"s":-66},{"b":"B8","f":13.2,"s":-69},{"b":"B8","f":13.3,"s":-64},{"b":"B8","f":13.4,"s":-67},{"b":"B8","f":13.5,"s":-65},{"b":"B8","f":13.6,"s":-70},{"b":"B8","f":13.7,"s":-66},{"b":"B8","f":13.8,"s":-68},{"b":"B8","f":13.9,"s":-64},
{"b":"B8","f":14.0,"s":-67},{"b":"B8","f":14.1,"s":-70},{"b":"B8","f":14.2,"s":-66},{"b":"B8","f":14.3,"s":-69},{"b":"B8","f":14.4,"s":-67},{"b":"B8","f":14.5,"s":-71},{"b":"B8","f":14.6,"s":-68},{"b":"B8","f":14.7,"s":-66},{"b":"B8","f":14.8,"s":-70},{"b":"B8","f":14.9,"s":-68},
{"b":"B8","f":15.0,"s":-71},{"b":"B8","f":15.1,"s":-67},{"b":"B8","f":15.2,"s":-69},{"b":"B8","f":15.3,"s":-72},{"b":"B8","f":15.4,"s":-68},{"b":"B8","f":15.5,"s":-70},{"b":"B8","f":15.6,"s":-67},{"b":"B8","f":15.7,"s":-71},{"b":"B8","f":15.8,"s":-69},{"b":"B8","f":15.9,"s":-66},
{"b":"B8","f":16.0,"s":-70},{"b":"B8","f":16.1,"s":-68},{"b":"B8","f":16.2,"s":-72},{"b":"B8","f":16.3,"s":-69},{"b":"B8","f":16.4,"s":-67},{"b":"B8","f":16.5,"s":-70},{"b":"B8","f":16.6,"s":-68},{"b":"B8","f":16.7,"s":-71},{"b":"B8","f":16.8,"s":-67},{"b":"B8","f":16.9,"s":-69},
{"b":"B8","f":17.0,"s":-72},{"b":"B8","f":17.1,"s":-68},{"b":"B8","f":17.2,"s":-70},{"b":"B8","f":17.3,"s":-66},{"b":"B8","f":17.4,"s":-69},{"b":"B8","f":17.5,"s":-71},{"b":"B8","f":17.6,"s":-68},{"b":"B8","f":17.7,"s":-70},{"b":"B8","f":17.8,"s":-67},{"b":"B8","f":17.9,"s":-71},
{"b":"B8","f":18.0,"s":-69},{"b":"B8","f":18.1,"s":-66},{"b":"B8","f":18.2,"s":-70},{"b":"B8","f":18.3,"s":-68},{"b":"B8","f":18.4,"s":-72},{"b":"B8","f":18.5,"s":-69},{"b":"B8","f":18.6,"s":-67},{"b":"B8","f":18.7,"s":-71},{"b":"B8","f":18.8,"s":-68},{"b":"B8","f":18.9,"s":-70},
{"b":"B8","f":19.0,"s":-67},{"b":"B8","f":19.1,"s":-69},{"b":"B8","f":19.2,"s":-72},{"b":"B8","f":19.3,"s":-68},{"b":"B8","f":19.4,"s":-70},{"b":"B8","f":19.5,"s":-66},{"b":"B8","f":19.6,"s":-69},{"b":"B8","f":19.7,"s":-71},{"b":"B8","f":19.8,"s":-67},{"b":"B8","f":19.9,"s":-69},{"b":"B8","f":20.0,"s":-68}
]
},
"encoding":{
"x":{"field":"f","type":"quantitative","scale":{"domain":[0,20],"nice":false},"axis":{"values":[0,2,4,6,8,10,12,14,16,18,20],"title":"Frequency (GHz)","labelPadding":7,"titlePadding":7}},
"y":{"field":"s","type":"quantitative","scale":{"domain":[-80,30],"nice":false},"axis":{"values":[-80,-70,-60,-50,-40,-30,-20,-10,0,10,20,30],"title":"S21 (dB)","labelPadding":7,"titlePadding":0}},
"color":{"field":"b","type":"nominal","scale":{"domain":["B1","B2","B3","B4","B5","B6","B7","B8"],"range":["#5a5aff","#00cc00","#ff0000","#000000","#00ffff","#ff00ff","#808000","#000080"]}}
},
"layer":[
{"data":{"name":"noise"},"transform":[{"filter":"datum.b != 'B8'"}],"mark":{"type":"rule","strokeWidth":2},"encoding":{"y2":{"datum":-80}}},
{"data":{"name":"curves"},"mark":{"type":"line","strokeWidth":2},"encoding":{"detail":{"field":"l","type":"nominal"}}},
{"data":{"name":"noise"},"transform":[{"filter":"datum.b == 'B8'"}],"mark":{"type":"rule","strokeWidth":2.2},"encoding":{"y2":{"datum":-80}}}
]
}
